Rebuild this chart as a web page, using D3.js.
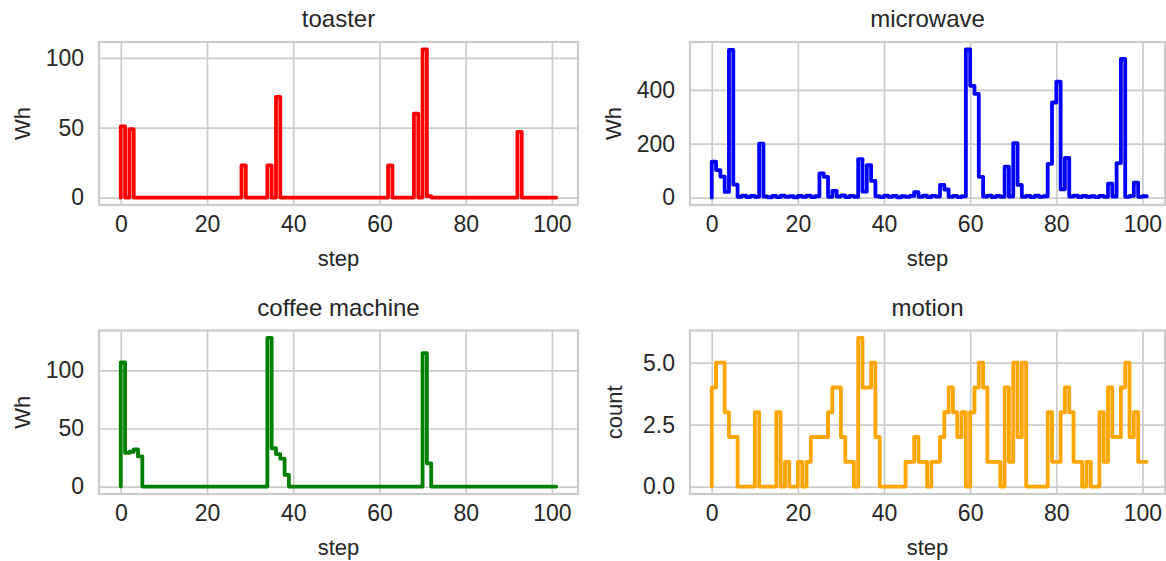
<!DOCTYPE html>
<html>
<head>
<meta charset="utf-8">
<script src="https://cdn.jsdelivr.net/npm/d3@7"></script>
<style>
  html, body { margin: 0; padding: 0; background: #ffffff; }
  svg { display: block; }
  text { font-family: "Liberation Sans", Arial, sans-serif; fill: #262626; }
</style>
</head>
<body>
<svg id="chart" width="1166" height="561"></svg>
<script>
// ---------------- data ----------------
const steps = d3.range(102);

const toaster = [
  0, 51, 0, 49, 0, 0, 0, 0, 0, 0,
  0, 0, 0, 0, 0, 0, 0, 0, 0, 0,
  0, 0, 0, 0, 0, 0, 0, 0, 0, 23,
  0, 0, 0, 0, 0, 23, 0, 72, 0, 0,
  0, 0, 0, 0, 0, 0, 0, 0, 0, 0,
  0, 0, 0, 0, 0, 0, 0, 0, 0, 0,
  0, 0, 0, 23, 0, 0, 0, 0, 0, 60,
  0, 106, 1, 0, 0, 0, 0, 0, 0, 0,
  0, 0, 0, 0, 0, 0, 0, 0, 0, 0,
  0, 0, 0, 47, 0, 0, 0, 0, 0, 0,
  0, 0
];

const microwave = [
  0, 133, 102, 78, 21, 548, 48, 3, 7, 2,
  6, 3, 200, 4, 1, 6, 2, 7, 3, 5,
  1, 6, 3, 7, 2, 5, 90, 77, 3, 25,
  4, 8, 2, 6, 3, 143, 22, 120, 62, 5,
  2, 7, 3, 6, 1, 5, 3, 6, 20, 3,
  7, 2, 6, 4, 47, 30, 3, 6, 2, 5,
  550, 415, 385, 77, 4, 7, 2, 6, 3, 115,
  4, 202, 47, 3, 6, 2, 7, 3, 5, 125,
  353, 430, 31, 147, 4, 7, 2, 6, 3, 5,
  2, 6, 3, 52, 4, 128, 515, 3, 6, 55,
  3, 5
];

const coffeeMachine = [
  0, 107, 29, 30, 32, 26, 0, 0, 0, 0,
  0, 0, 0, 0, 0, 0, 0, 0, 0, 0,
  0, 0, 0, 0, 0, 0, 0, 0, 0, 0,
  0, 0, 0, 0, 0, 128, 33, 28, 24, 10,
  0, 0, 0, 0, 0, 0, 0, 0, 0, 0,
  0, 0, 0, 0, 0, 0, 0, 0, 0, 0,
  0, 0, 0, 0, 0, 0, 0, 0, 0, 0,
  0, 115, 20, 0, 0, 0, 0, 0, 0, 0,
  0, 0, 0, 0, 0, 0, 0, 0, 0, 0,
  0, 0, 0, 0, 0, 0, 0, 0, 0, 0,
  0, 0
];

const motion = [
  0, 4, 5, 5, 3, 2, 2, 0, 0, 0,
  0, 3, 0, 0, 0, 0, 3, 0, 1, 0,
  0, 1, 0, 1, 2, 2, 2, 2, 3, 4,
  4, 2, 1, 1, 0, 6, 4, 4, 5, 2,
  0, 0, 0, 0, 0, 0, 1, 1, 2, 1,
  1, 0, 1, 1, 2, 3, 4, 3, 2, 3,
  0, 3, 4, 5, 4, 1, 1, 1, 0, 4,
  1, 5, 2, 5, 0, 0, 0, 0, 0, 3,
  1, 1, 3, 4, 3, 1, 1, 0, 1, 0,
  0, 3, 1, 4, 2, 2, 4, 5, 2, 3,
  1, 1
];

const xTicks = [0, 20, 40, 60, 80, 100];
const toasterTicks = [0, 50, 100];
const microwaveTicks = [0, 200, 400];
const coffeeTicks = [0, 50, 100];
const motionTicks = [0, 2.5, 5];

const titles = ["toaster", "microwave", "coffee machine", "motion"];
const yLabels = ["Wh", "Wh", "Wh", "count"];
const xLabel = "step";

// ---------------- layout ----------------
const svg = d3.select("#chart");
const TICK_FS = 23, TITLE_FS = 24, LABEL_FS = 22;

const panels = [
  { values: toaster,       color: "#ff0000", yTicks: toasterTicks,   fmt: d3.format("d"),   x0: 99,  x1: 578,    y0: 42,    y1: 205, ylabX: 22 },
  { values: microwave,     color: "#0000ff", yTicks: microwaveTicks, fmt: d3.format("d"),   x0: 690, x1: 1168.5, y0: 42,    y1: 205, ylabX: 613 },
  { values: coffeeMachine, color: "#008000", yTicks: coffeeTicks,    fmt: d3.format("d"),   x0: 99,  x1: 578,    y0: 330.5, y1: 494, ylabX: 22 },
  { values: motion,        color: "#ffa500", yTicks: motionTicks,    fmt: d3.format(".1f"), x0: 690, x1: 1168.5, y0: 330.5, y1: 494, ylabX: 614 }
];

panels.forEach((p, i) => {
  const g = svg.append("g");
  const x = d3.scaleLinear().domain([-5.05, 106.05]).range([p.x0, p.x1]);
  const [mn, mx] = d3.extent(p.values);
  const pad = (mx - mn) * 0.05;
  const y = d3.scaleLinear().domain([mn - pad, mx + pad]).range([p.y1, p.y0]);
  const frameRight = Math.min(p.x1, 1165);

  // grid + x tick labels
  const xa = g.append("g")
    .attr("transform", `translate(0,${p.y1})`)
    .call(d3.axisBottom(x).tickValues(xTicks).tickSize(-(p.y1 - p.y0)).tickPadding(11).tickFormat(d3.format("d")));
  xa.select(".domain").remove();
  xa.selectAll("line").attr("stroke", "#cccccc").attr("stroke-width", 1.7);
  xa.selectAll("text").attr("font-size", TICK_FS).attr("fill", "#262626")
    .style("font-family", '"Liberation Sans", Arial, sans-serif');

  const ya = g.append("g")
    .attr("transform", `translate(${p.x0},0)`)
    .call(d3.axisLeft(y).tickValues(p.yTicks).tickSize(-(frameRight - p.x0)).tickPadding(15).tickFormat(p.fmt));
  ya.select(".domain").remove();
  ya.selectAll("line").attr("stroke", "#cccccc").attr("stroke-width", 1.7);
  ya.selectAll("text").attr("font-size", TICK_FS).attr("fill", "#262626")
    .style("font-family", '"Liberation Sans", Arial, sans-serif');

  // frame
  g.append("rect")
    .attr("x", p.x0).attr("y", p.y0)
    .attr("width", frameRight - p.x0).attr("height", p.y1 - p.y0)
    .attr("fill", "none").attr("stroke", "#cccccc").attr("stroke-width", 2.2);

  // step line
  const line = d3.line()
    .x((d, k) => x(steps[k]))
    .y(d => y(d))
    .curve(d3.curveStepBefore);
  g.append("path")
    .datum(p.values)
    .attr("d", line)
    .attr("fill", "none")
    .attr("stroke", p.color)
    .attr("stroke-width", 3.8)
    .attr("stroke-linejoin", "round")
    .attr("stroke-linecap", "round");

  // title
  g.append("text")
    .attr("x", (p.x0 + frameRight) / 2)
    .attr("y", p.y0 - 23)
    .attr("dy", "0.35em")
    .attr("text-anchor", "middle")
    .attr("font-size", TITLE_FS)
    .text(titles[i]);

  // x label
  g.append("text")
    .attr("x", (p.x0 + frameRight) / 2)
    .attr("y", p.y1 + 53)
    .attr("dy", "0.35em")
    .attr("text-anchor", "middle")
    .attr("font-size", LABEL_FS)
    .text(xLabel);

  // y label
  g.append("text")
    .attr("transform", `translate(${p.ylabX},${(p.y0 + p.y1) / 2}) rotate(-90)`)
    .attr("dy", "0.35em")
    .attr("text-anchor", "middle")
    .attr("font-size", LABEL_FS)
    .text(yLabels[i]);
});
</script>
</body>
</html>
